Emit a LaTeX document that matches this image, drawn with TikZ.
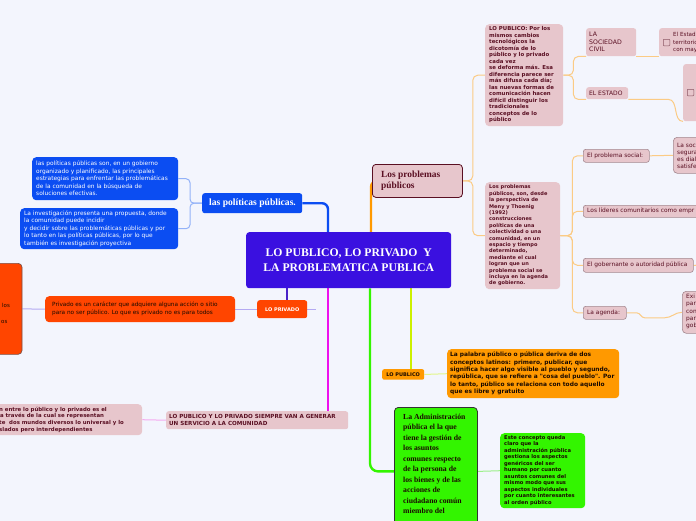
\documentclass[tikz,border=0pt]{standalone}
\usepackage{fontspec}
\setmainfont{Liberation Serif}
\newfontfamily\dv{DejaVu Sans}
\usetikzlibrary{calc,backgrounds}
\definecolor{bgc}{HTML}{F3F5FD}
\definecolor{cent}{HTML}{3A10E0}
\definecolor{bluec}{HTML}{0B4DF2}
\definecolor{lblue}{HTML}{93B2F8}
\definecolor{redo}{HTML}{FF4500}
\definecolor{redb}{HTML}{7A5048}
\definecolor{purp}{HTML}{4A22C8}
\definecolor{lpurp}{HTML}{B4AAF2}
\definecolor{mag}{HTML}{EE11EE}
\definecolor{lmag}{HTML}{F4AAF0}
\definecolor{pinkc}{HTML}{E7C6CC}
\definecolor{pinkb}{HTML}{A48890}
\definecolor{maroon}{HTML}{5A0F22}
\definecolor{oran}{HTML}{FF9900}
\definecolor{loran}{HTML}{FBCB85}
\definecolor{ygreen}{HTML}{CCF000}
\definecolor{lyg}{HTML}{E2F58A}
\definecolor{grn}{HTML}{33F500}
\definecolor{lgrn}{HTML}{9CF08A}
\definecolor{dark}{HTML}{1A0A00}
\newcommand{\myfs}[2]{\fontsize{#1}{#2}\selectfont}
\tikzset{
  box/.style={anchor=north west, inner sep=0pt, rounded corners=2.5pt},
  txt/.style={anchor=west, inner sep=0pt, align=left},
  pinkbox/.style={box, fill=pinkc},
  pinkline/.style={pinkbox, draw=pinkb, line width=0.6pt},
  smallpink/.style={txt, text=maroon, font=\dv\myfs{5.9}{7}},
  chk/.style={draw=maroon!70, line width=0.5pt, fill=pinkc, minimum size=6.5pt, inner sep=0pt, rounded corners=0.8pt},
  trunk/.style={line width=2.4pt},
  twig/.style={line width=1pt}
}
\begin{document}
\begin{tikzpicture}[x=1pt,y=-1pt]
\useasboundingbox (0,0) rectangle (696,520);
\clip (0,0) rectangle (696,520);

% central
\node[box, fill=cent, minimum width=205pt, minimum height=56pt, rounded corners=3pt] (c) at (246,232) {};
\node[txt, anchor=center, align=center, text=white, font=\bfseries\myfs{11.7}{15}] (ct) at (c.center) {LO PUBLICO, LO PRIVADO\ \ Y\\LA PROBLEMATICA PUBLICA};

% politicas
\node[box, fill=bluec, minimum width=100pt, minimum height=20pt] (pol) at (202,193) {};
\node[txt, text=white, font=\bfseries\myfs{9.6}{11}] (polt) at (209,203) {las políticas públicas.};
\node[box, fill=bluec, minimum width=146pt, minimum height=43pt, rounded corners=4pt] (pa) at (32,157) {};
\node[txt, text=white, font=\dv\myfs{5.9}{7.5}] (pat) at (36,178.5) {las políticas públicas son, en un gobierno\\organizado y planificado, las principales\\estrategias para enfrentar las problemáticas\\de la comunidad en la búsqueda de\\soluciones efectivas.};
\node[box, fill=bluec, minimum width=158pt, minimum height=41pt, rounded corners=4pt] (pb) at (20,208) {};
\node[txt, text=white, font=\dv\myfs{5.9}{7.5}] (pbt) at (24,228.5) {La investigación presenta una propuesta, donde\\la comunidad puede incidir\\y decidir sobre las problemáticas públicas y por\\lo tanto en las políticas públicas, por lo que\\también es investigación proyectiva};

% privado
\node[box, fill=redo, minimum width=50pt, minimum height=18pt] (lp) at (257,300) {};
\node[txt, anchor=center, text=white, font=\dv\bfseries\myfs{5}{6}] (lpt) at (lp.center) {LO PRIVADO};
\node[box, fill=redo, minimum width=190pt, minimum height=26pt, rounded corners=4pt] (pv) at (45,296) {};
\node[txt, text=dark, font=\dv\myfs{5.75}{8.3}] (pvt) at (52,309) {Privado es un carácter que adquiere alguna acción o sitio\\para no ser público. Lo que es privado no es para todos};
\node[box, fill=redo, draw=redb, line width=0.7pt, minimum width=61.7pt, minimum height=91pt, rounded corners=4pt] (lo) at (-40,263) {};
\node[txt, text=dark, font=\dv\myfs{5.5}{8}] (lot) at (1,313) {\,los\\[8pt]os};

% servicio
\node[pinkbox, minimum width=182pt, minimum height=18pt] (sv) at (166,411) {};
\node[txt, text=maroon, font=\dv\bfseries\myfs{5.6}{6.2}] (svt) at (169,420) {LO PUBLICO Y LO PRIVADO SIEMPRE VAN A GENERAR\\UN SERVICIO A LA COMUNIDAD};
\node[pinkbox, minimum width=242pt, minimum height=31pt, rounded corners=4pt] (lk) at (-100,404) {};
\node[txt, text=maroon, font=\dv\bfseries\myfs{5.4}{6.7}] (lkt) at (-1,419.5) {n entre lo público y lo privado es el\\\,a través de la cual se representan\\te\ \ dos mundos diversos lo universal y lo\\slados pero interdependientes};

% problemas
\node[pinkbox, draw=maroon, line width=0.8pt, minimum width=90pt, minimum height=33pt, rounded corners=3.5pt] (pp) at (372,164) {};
\node[txt, text=maroon, font=\bfseries\myfs{9.4}{11}] (ppt) at (381,181) {Los problemas\\públicos};
\node[pinkbox, minimum width=78pt, minimum height=102pt, rounded corners=4pt] (lb) at (485,24) {};
\node[txt, text=maroon, font=\dv\bfseries\myfs{5.4}{6.5}] (lbt) at (489,75) {LO PUBLICO: Por los\\mismos cambios\\tecnológicos la\\dicotomía de lo\\público y lo privado\\cada vez\\se deforma más. Esa\\diferencia parece ser\\más difusa cada día;\\las nuevas formas de\\comunicación hacen\\difícil distinguir los\\tradicionales\\conceptos de lo\\público};
\node[pinkbox, minimum width=75pt, minimum height=107pt, rounded corners=4pt] (p2) at (485,182) {};
\node[txt, text=maroon, font=\dv\bfseries\myfs{5.05}{6.4}] (p2t) at (489,235.5) {Los problemas\\públicos, son, desde\\la perspectiva de\\Meny y Thoenig\\(1992)\\construcciones\\políticas de una\\colectividad o una\\comunidad, en un\\espacio y tiempo\\determinado,\\mediante el cual\\logran que un\\problema social se\\incluya en la agenda\\de gobierno.};

% estado / sociedad
\node[pinkbox, minimum width=50pt, minimum height=28pt] (sc) at (586,28) {};
\node[txt, text=maroon, font=\dv\myfs{6.2}{7.5}] (sct) at (589,42) {LA\\SOCIEDAD\\CIVIL};
\node[pinkbox, minimum width=42pt, minimum height=12pt] (es) at (586,87) {};
\node[txt, text=maroon, font=\dv\myfs{6}{7}] (est) at (589,93) {EL ESTADO};
\node[pinkbox, minimum width=100pt, minimum height=28pt] (ee) at (659,28) {};
\node[chk] (eeb) at (666.5,42.5) {};
\node[txt, text=maroon, font=\dv\myfs{5.6}{7.5}] (eet) at (673,42.5) {El Estad\\territorio,\\con may};
\node[pinkbox, minimum width=80pt, minimum height=57pt] (rb) at (683,64) {};
\node[chk] (rbb) at (690.5,92.5) {};

% right column
\node[pinkline, minimum width=66pt, minimum height=13pt] (ps) at (583,149) {};
\node[smallpink] (pst) at (587,155.5) {El problema social:};
\node[pinkline, minimum width=130pt, minimum height=12pt] (ld) at (583,205) {};
\node[smallpink] (ldt) at (587,211) {Los líderes comunitarios como empr};
\node[pinkline, minimum width=110pt, minimum height=14pt] (go) at (583,258) {};
\node[smallpink] (got) at (587,265) {El gobernante o autoridad pública};
\node[pinkline, minimum width=43pt, minimum height=13pt] (ag) at (583,306) {};
\node[smallpink] (agt) at (587,312.5) {La agenda:};
\node[pinkline, minimum width=80pt, minimum height=36pt, rounded corners=4pt] (ls) at (673,137) {};
\node[smallpink] (lst) at (677,155.5) {La soc\\segura\\es dial\\satisfe};
\node[pinkline, minimum width=80pt, minimum height=42pt, rounded corners=4pt] (ex) at (682,291) {};
\node[smallpink, font=\dv\myfs{5.9}{7.2}] (ext) at (686,311.5) {Exi\\par\\con\\par\\gob};

% lo publico
\node[box, fill=oran, minimum width=42pt, minimum height=10.5pt, rounded corners=2pt] (lpu) at (382,369) {};
\node[txt, anchor=center, text=dark, font=\dv\bfseries\myfs{5}{6}] (lput) at (lpu.center) {LO PUBLICO};
\node[box, fill=oran, minimum width=172pt, minimum height=49pt, rounded corners=4pt] (ob) at (447,349) {};
\node[txt, text=dark, font=\dv\bfseries\myfs{5.9}{7.3}] (obt) at (450,373.5) {La palabra público o pública deriva de dos\\conceptos latinos: primero, publicar, que\\significa hacer algo visible al pueblo y segundo,\\república, que se refiere a "cosa del pueblo". Por\\lo tanto, público se relaciona con todo aquello\\que es libre y gratuito};

% administracion
\node[box, fill=grn, draw=black!80, line width=0.8pt, minimum width=83pt, minimum height=128pt, rounded corners=4pt] (gn) at (394,407) {};
\node[txt, anchor=north west, text=dark, font=\bfseries\myfs{7.7}{10.5}] (gnt) at (403,413.5) {La Administración\\pública el la que\\tiene la gestión de\\los asuntos\\comunes respecto\\de la persona de\\los bienes y de las\\acciones de\\ciudadano común\\miembro del};
\node[box, fill=grn, minimum width=85pt, minimum height=75pt, rounded corners=4pt] (gb) at (500,433) {};
\node[txt, text=dark, font=\dv\bfseries\myfs{5.2}{6.5}] (gbt) at (504,470.5) {Este concepto queda\\claro que la\\administración pública\\gestiona los aspectos\\genéricos del ser\\humano por cuanto\\asuntos comunes del\\mismo modo que sus\\aspectos individuales\\por cuanto interesantes\\al orden público};

\begin{scope}[on background layer]
\fill[bgc] (-10,-10) rectangle (710,530);
\coordinate (m1) at ($(c.north west)+(82,0)$);
\coordinate (m6) at ($(c.north west)+(125,0)$);
\coordinate (m3) at ($(c.south west)+(41,0)$);
\coordinate (m2) at ($(c.south west)+(82,0)$);
\coordinate (m5) at ($(c.south west)+(124,0)$);
\coordinate (m4) at ($(c.south west)+(165,0)$);
\coordinate (goR) at (705,265);
\coordinate (lpR) at ($(lp.east)+(9,0)$);
% trunks
\draw[bluec, trunk, rounded corners=6pt] (m1) |- (pol.east);
\draw[purp, trunk] (m3) -- (m3 |- lp.north);
\draw[mag, trunk] (m2) -- (m2 |- sv.north);
\draw[oran, trunk, rounded corners=6pt] (m6) |- (pp.west);
\draw[ygreen, trunk] (m4) -- (m4 |- lpu.north);
\draw[grn, trunk, rounded corners=8pt] (m5) |- (gn.west);
% twigs
\draw[lblue, twig, rounded corners=4pt] (pol.west) -- ++(-12,0) |- (pa.east);
\draw[lblue, twig, rounded corners=4pt] (pol.west) -- ++(-12,0) |- (pb.east);
\draw[lpurp, twig] (lp.west) -- (pv.east);
\draw[lpurp, twig] (lp.east) -- (lpR);
\draw[lpurp, twig] (pv.west) -- (lo.east);
\draw[lmag, twig] (sv.west) -- (lk.east);
\draw[loran, twig, rounded corners=5pt] (pp.east) -- ++(10,0) |- (lb.west);
\draw[loran, twig, rounded corners=5pt] (pp.east) -- ++(10,0) |- (p2.west);
\draw[loran, twig, rounded corners=5pt] (lb.east) -- ++(10,0) |- (sc.south west);
\draw[loran, twig, rounded corners=5pt] (lb.east) -- ++(10,0) |- (es.south west);
\draw[loran, twig] (sc.south east) -- (ee.south west);
\draw[loran, twig] (es.south east) -- ++(40,0) to[out=0,in=180] (rb.south west);
\draw[loran, twig, rounded corners=5pt] (p2.east) -- ++(12,0) |- (ps.west);
\draw[loran, twig, rounded corners=5pt] (p2.east) -- ++(12,0) |- (ld.west);
\draw[loran, twig, rounded corners=5pt] (p2.east) -- ++(12,0) |- (go.west);
\draw[loran, twig, rounded corners=5pt] (p2.east) -- ++(12,0) |- (ag.west);
\draw[loran, twig] (ps.east) -- (ls.west);
\draw[loran, twig] (go.east) -- (goR);
\draw[loran, twig] (ag.east) -- ++(10,0) to[out=0,in=180] ++(8,5) -- ++(20,0) to[out=0,in=180] (ex.west);
\draw[lyg, twig] (lpu.east) -- (ob.west);
\draw[lgrn, twig] (gn.east) -- (gb.west);
\end{scope}
\end{tikzpicture}
\end{document}
